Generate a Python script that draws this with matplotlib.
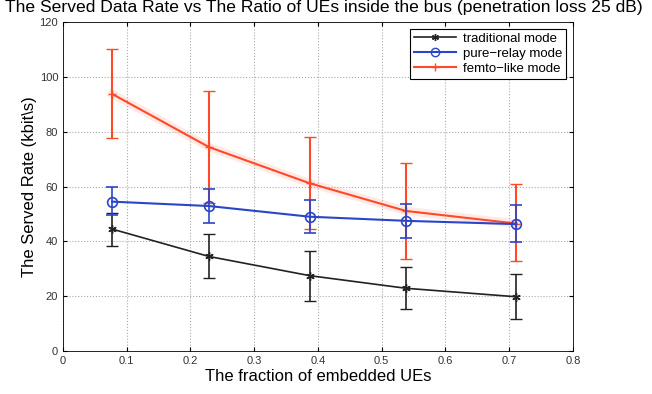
import numpy as np
import matplotlib
matplotlib.use("Agg")
import matplotlib.pyplot as plt
from matplotlib.lines import Line2D

plt.rcParams['font.family'] = ['Liberation Sans', 'DejaVu Sans']

# fraction of embedded UEs
frac = [0.077, 0.229, 0.387, 0.538, 0.711]

# traditional mode
trad = [44.5, 34.5, 27.5, 22.9, 19.8]
trad_lo = [38.4, 26.5, 18.2, 15.2, 11.6]
trad_hi = [50.5, 42.6, 36.4, 30.8, 28.0]

# pure-relay mode
relay = [54.5, 52.9, 49.0, 47.5, 46.3]
relay_lo = [49.6, 46.8, 43.2, 41.3, 39.6]
relay_hi = [59.9, 59.2, 55.1, 53.6, 53.1]

# femto-like mode
femto = [93.8, 74.4, 61.2, 51.1, 46.5]
femto_lo = [77.6, 54.0, 44.4, 33.6, 32.9]
femto_hi = [110.0, 94.9, 78.0, 68.5, 60.8]

xticks = [0, 0.1, 0.2, 0.3, 0.4, 0.5, 0.6, 0.7, 0.8]
yticks = [0, 20, 40, 60, 80, 100, 120]
labels = ['traditional mode', 'pure\u2212relay mode', 'femto\u2212like mode']


def err(v, lo, hi):
    v = np.array(v)
    return [v - np.array(lo), np.array(hi) - v]


fig = plt.figure(figsize=(6.52, 3.94), dpi=100)
ax = fig.add_axes([0.0966, 0.109, 0.7822, 0.835])

black = '#222222'
red = '#ff4a2a'
blue = '#2a46c8'

# soft glow under the red series
ax.plot(frac, femto, color=red, lw=6, alpha=0.12, zorder=1)

ax.errorbar(frac, trad, yerr=err(trad, trad_lo, trad_hi), color=black,
            marker=(6, 2, 0), ms=6, lw=1.2, capsize=4, elinewidth=1.2,
            zorder=3)
ax.errorbar(frac, relay, yerr=err(relay, relay_lo, relay_hi), color=blue,
            marker='o', mfc='none', ms=7, mew=1.2, lw=1.5, capsize=4,
            elinewidth=1.2, zorder=4)
ax.errorbar(frac, femto, yerr=err(femto, femto_lo, femto_hi), color=red,
            marker='+', ms=6, lw=1.5, capsize=4, elinewidth=1.5, zorder=2)

ax.set_xlim(0, 0.8)
ax.set_ylim(0, 120)
ax.set_xticks(xticks)
ax.set_xticklabels([str(t) if t != 0 else '0' for t in xticks])
ax.set_yticks(yticks)
ax.tick_params(direction='in', labelsize=8, length=3, top=True, right=True,
               labelcolor='#333333')
ax.grid(True, linestyle=':', color='#aaaaaa', lw=0.8)
for s in ax.spines.values():
    s.set_linewidth(0.6)

ax.set_xlabel('The fraction of embedded UEs', fontsize=12, labelpad=2)
ax.set_ylabel('The Served Rate (kbit\\s)', fontsize=12, labelpad=2)
fig.text(0.497, 0.999, 'The Served Data Rate vs The Ratio of UEs inside the bus '
         '(penetration loss 25 dB)', fontsize=12.6, ha='center', va='top')

handles = [
    Line2D([], [], color=black, marker=(6, 2, 0), ms=5, lw=1.2),
    Line2D([], [], color=blue, marker='o', mfc='none', ms=6, lw=1.5),
    Line2D([], [], color=red, marker='+', ms=6, lw=1.5),
]
leg = ax.legend(handles, labels, loc='upper right', fontsize=9.5,
                fancybox=False, edgecolor='black', framealpha=1,
                handlelength=3.2, borderpad=0.3, labelspacing=0.2,
                borderaxespad=0.5, handletextpad=0.5)
leg.get_frame().set_linewidth(0.8)

fig.savefig('out.png', dpi=100)
